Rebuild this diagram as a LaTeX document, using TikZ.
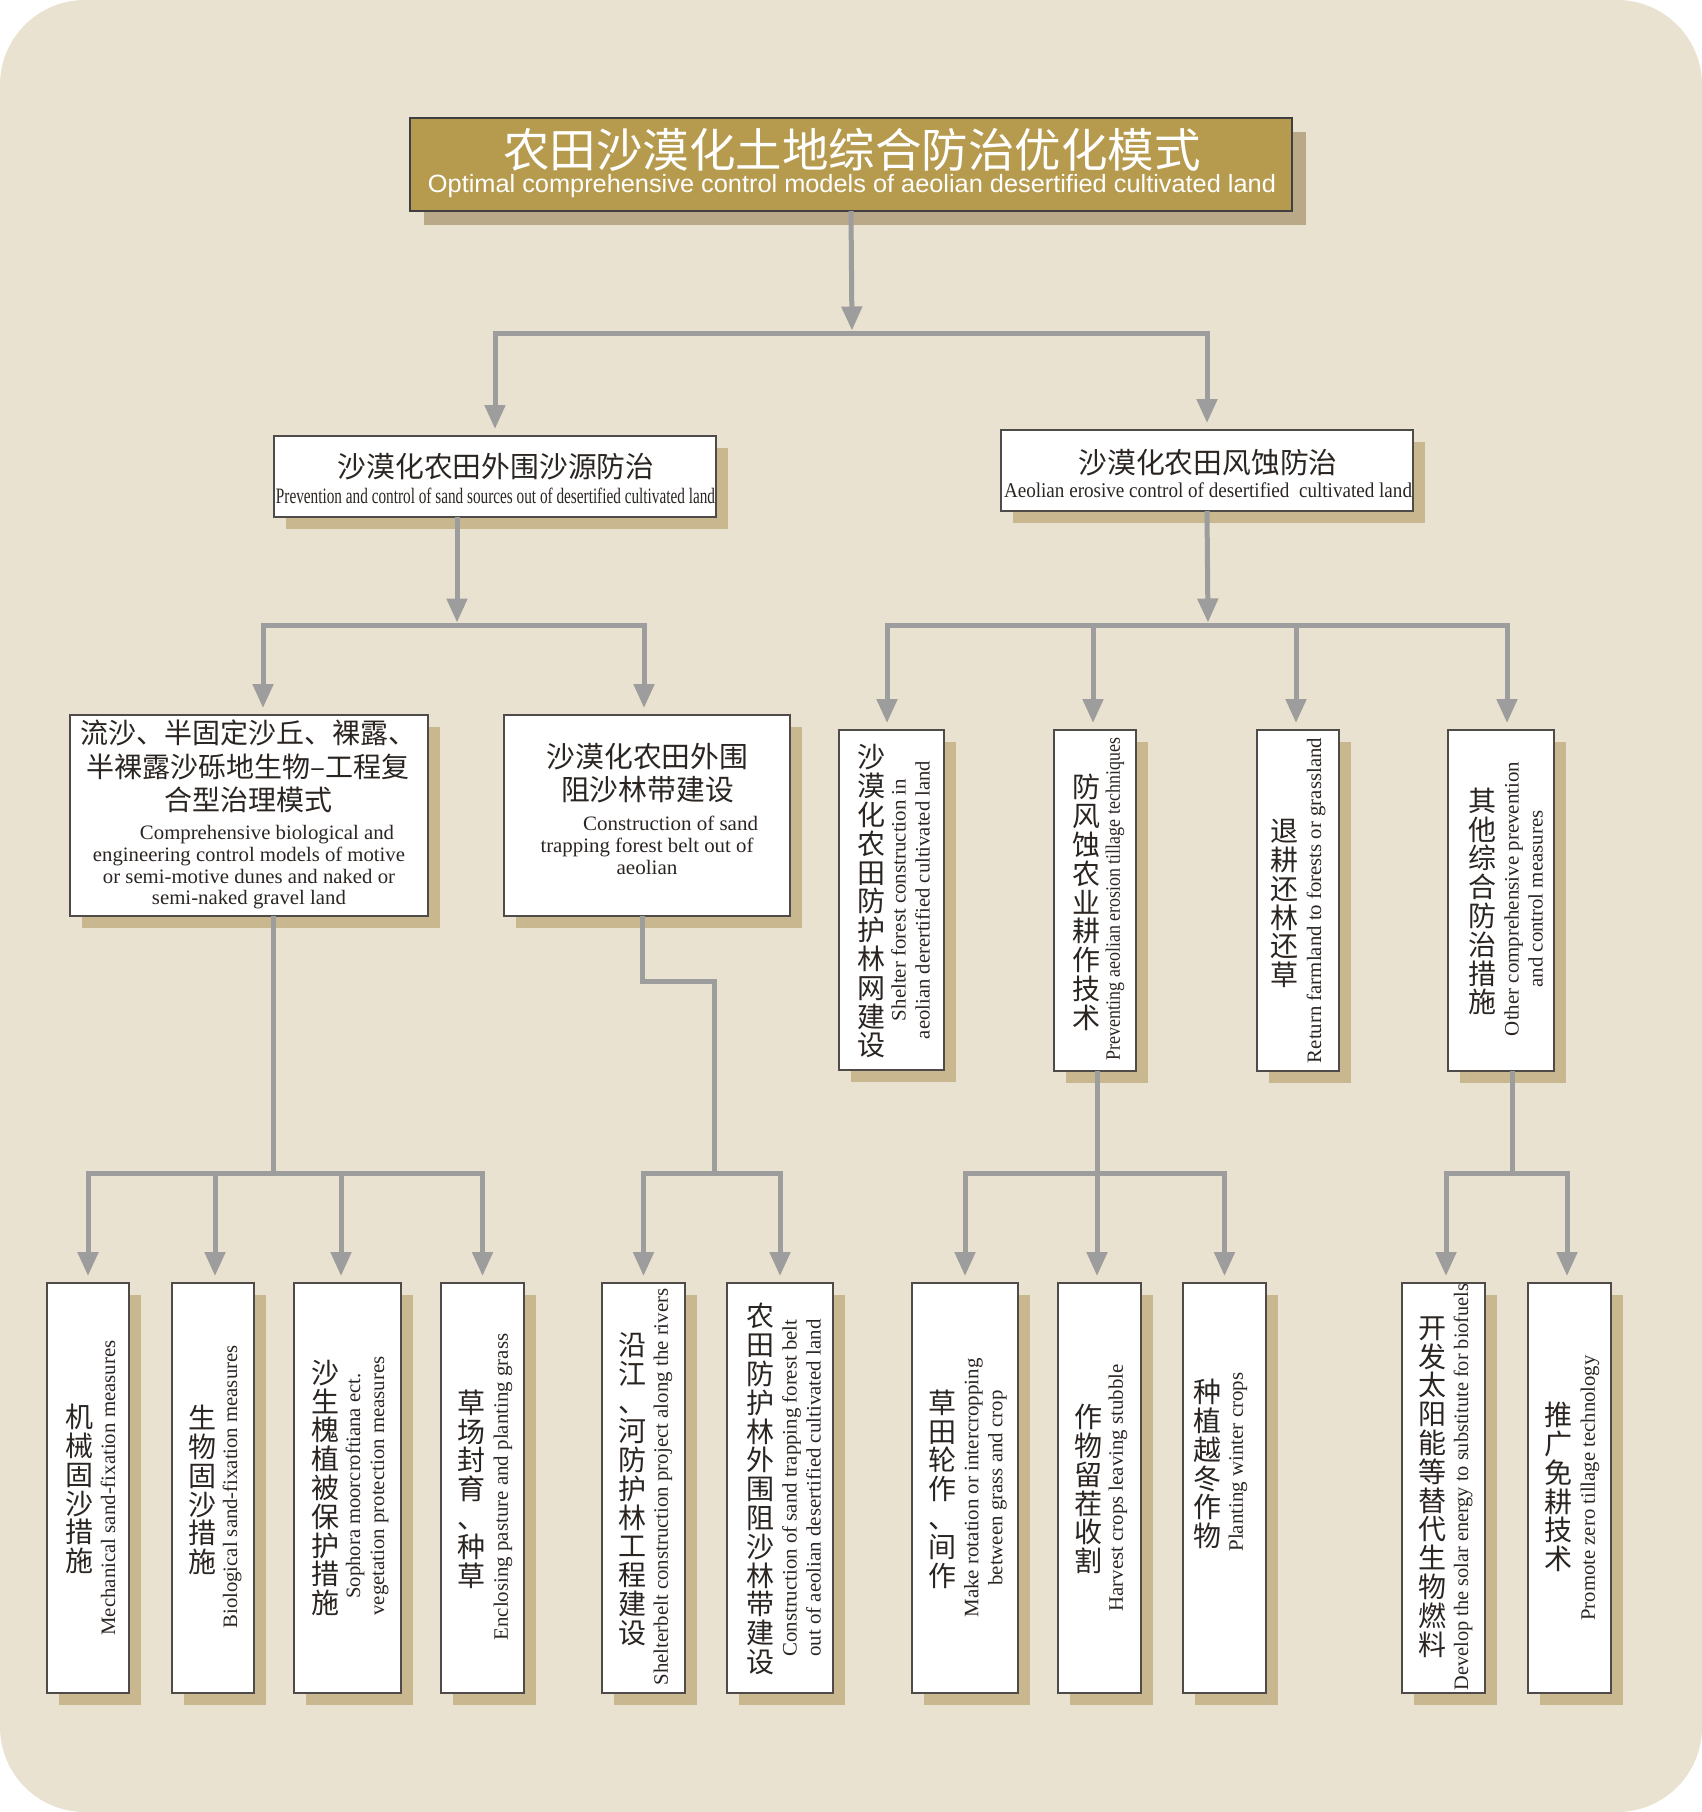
\documentclass[tikz,border=0pt]{standalone}
\usepackage{fontspec}
\usepackage{graphicx}
\setmainfont{Liberation Serif}
\newfontfamily\cjk{Noto Sans CJK SC}
\newfontfamily\ssf{Liberation Sans}
\usetikzlibrary{arrows.meta,shadows,calc}
\definecolor{bgc}{HTML}{EAE2D0}
\definecolor{gold}{HTML}{B69B4F}
\definecolor{tshd}{HTML}{BAA989}
\definecolor{shd}{HTML}{C8B78F}
\definecolor{lineg}{HTML}{9D9D9D}
\definecolor{bord}{HTML}{4F4B48}
\definecolor{txt}{HTML}{2B2522}
\newcommand\fw[2]{\resizebox{#1pt}{\height}{#2}}
\makeatletter
\newcommand\vcjk[1]{\vbox{\baselineskip=28.8pt\lineskiplimit=-100pt\lineskip=0pt\@tfor\vc@c:=#1\do{\hbox to 1em{\hss\vc@c\hss}}}}
\makeatother
\tikzset{
  box/.style={draw=bord, line width=1.6pt, fill=white, inner sep=0pt, outer sep=0pt,
    drop shadow={shadow xshift=12pt, shadow yshift=-12pt, fill=shd, opacity=1}},
  tbox/.style={draw=black!75, line width=1.6pt, fill=gold, inner sep=0pt, outer sep=0pt,
    drop shadow={shadow xshift=14pt, shadow yshift=-14pt, fill=tshd, opacity=1}},
  cn/.style={font=\cjk\fontsize{28.8}{33.5}\selectfont, text=txt, inner sep=0pt, align=center},
  en/.style={font=\fontsize{20.5}{21.7}\selectfont, text=txt, inner sep=0pt, align=center},
  ven/.style={font=\fontsize{20.5}{24}\selectfont, text=txt, inner sep=0pt, align=center, rotate=90},
  vcn/.style={font=\cjk\fontsize{28}{28.8}\selectfont, text=txt, inner sep=0pt},
  conn/.style={draw=lineg, line width=5pt, line join=miter},
  arr/.style={conn, -{Triangle[length=24pt,width=20pt]}},
  gap/.style={shorten >=7pt}
}
\begin{document}
\begin{tikzpicture}[x=1pt,y=-1pt]
\useasboundingbox (0,0) rectangle (1702,1812);
\fill[white] (0,0) rectangle (1702,1812);
\fill[bgc, rounded corners=85pt] (0,0) rectangle (1702,1812);

% title
\node[tbox, minimum width=882pt, minimum height=93pt] (title) at (851,164.5) {};
\node[font=\cjk\fontsize{46.5}{50}\selectfont, text=white, inner sep=0pt] (tcn) at (852,150) {农田沙漠化土地综合防治优化模式};
\node[font=\ssf\fontsize{25}{28}\selectfont, text=white, inner sep=0pt] (ten) at (852,186) {\fw{848}{Optimal comprehensive control models of aeolian desertified cultivated land}};

% level 2
\node[box, minimum width=442pt, minimum height=81pt] (l2a) at (495,476.5) {};
\node[cn] (l2acn) at (496,467) {沙漠化农田外围沙源防治};
\node[en, font=\fontsize{22}{24}\selectfont] (l2aen) at (495.5,496) {\fw{439}{Prevention and control of sand sources out of desertified cultivated land}};

\node[box, minimum width=412pt, minimum height=81pt] (l2b) at (1207,470.5) {};
\node[cn] (l2bcn) at (1208,463) {沙漠化农田风蚀防治};
\node[en, font=\fontsize{21}{24}\selectfont] (l2ben) at (1208,490) {\fw{408}{Aeolian erosive control of desertified\ \ cultivated land}};

% level 3
\node[box, minimum width=358pt, minimum height=201pt] (na) at (249,815.5) {};
\node[cn, font=\cjk\fontsize{28}{33.5}\selectfont] (nacn) at (248,766.5) {流沙、半固定沙丘、裸露、\\半裸露沙砾地生物–工程复\\合型治理模式};
\node[en] (naen) at (249,867.5) {\hspace*{36pt}\fw{254}{Comprehensive biological and}\\\fw{312}{engineering control models of motive}\\\fw{292}{or semi-motive dunes and naked or}\\\fw{194}{semi-naked gravel land}};

\node[box, minimum width=286pt, minimum height=201pt] (nb) at (647,815.5) {};
\node[cn, font=\cjk\fontsize{28.8}{33}\selectfont] (nbcn) at (647.5,773.5) {沙漠化农田外围\\阻沙林带建设};
\node[en] (nben) at (647,845.5) {\hspace*{47pt}\fw{175}{Construction of sand}\\\fw{213}{trapping forest belt out of}\\\fw{61}{aeolian}};

\node[box, minimum width=105pt, minimum height=340pt] (nc) at (891.5,900) {};
\node[vcn] (nccn) at (871,901.5) {\vcjk{沙漠化农田防护林网建设}};
\node[ven] (ncen) at (910.5,900) {\fw{242}{Shelter forest construction in}\\\fw{278}{aeolian derertified cultivated land}};

\node[box, minimum width=82pt, minimum height=341pt] (nd) at (1095,900.5) {};
\node[vcn] (ndcn) at (1086,902.5) {\vcjk{防风蚀农业耕作技术}};
\node[ven] (nden) at (1115,899) {\fw{322}{Preventing aeolian erosion tillage techniques}};

\node[box, minimum width=82pt, minimum height=341pt] (ne) at (1298,900.5) {};
\node[vcn] (necn) at (1284,903.5) {\vcjk{退耕还林还草}};
\node[ven] (neen) at (1316,900.5) {\fw{325}{Return farmland to forests or grassland}};

\node[box, minimum width=106pt, minimum height=341pt] (nf) at (1501,900.5) {};
\node[vcn] (nfcn) at (1482,901.5) {\vcjk{其他综合防治措施}};
\node[ven] (nfen) at (1523.5,899) {\fw{274}{Other comprehensive prevention}\\\fw{177}{and control measures}};

% level 4
\node[box, minimum width=82pt, minimum height=410pt] (g1) at (88,1488) {};
\node[vcn] (g1cn) at (79.5,1489) {\vcjk{机械固沙措施}};
\node[ven] (g1en) at (108,1488) {\fw{295}{Mechanical sand-fixation measures}};

\node[box, minimum width=82pt, minimum height=410pt] (g2) at (213,1488) {};
\node[vcn] (g2cn) at (202,1490) {\vcjk{生物固沙措施}};
\node[ven] (g2en) at (232,1487) {\fw{283}{Biological sand-fixation measures}};

\node[box, minimum width=107pt, minimum height=410pt] (g3) at (347.5,1488) {};
\node[vcn] (g3cn) at (325,1488) {\vcjk{沙生槐植被保护措施}};
\node[ven] (g3en) at (367,1486) {\fw{225}{Sophora moorcroftiana ect.}\\\fw{259}{vegetation protection measures}};

\node[box, minimum width=83pt, minimum height=410pt] (g4) at (482.5,1488) {};
\node[vcn] (g4cn) at (471,1489) {\vcjk{草场封育、种草}};
\node[ven] (g4en) at (503,1487) {\fw{307}{Enclosing pasture and planting grass}};

\node[box, minimum width=83pt, minimum height=410pt] (h1) at (643.5,1488) {};
\node[vcn] (h1cn) at (632,1489) {\vcjk{沿江、河防护林工程建设}};
\node[ven] (h1en) at (663,1487) {\fw{397}{Shelterbelt construction project along the rivers}};

\node[box, minimum width=106pt, minimum height=410pt] (h2) at (780,1488) {};
\node[vcn] (h2cn) at (760,1489) {\vcjk{农田防护林外围阻沙林带建设}};
\node[ven] (h2en) at (801.5,1488) {\fw{337}{Construction of sand trapping forest belt}\\\fw{337}{out of aeolian desertified cultivated land}};

\node[box, minimum width=106pt, minimum height=410pt] (i1) at (965,1488) {};
\node[vcn] (i1cn) at (942,1489) {\vcjk{草田轮作、间作}};
\node[ven] (i1en) at (985.5,1488) {\fw{259}{Make rotation or intercropping}\\\fw{195}{between grass and crop}};

\node[box, minimum width=83pt, minimum height=410pt] (i2) at (1099.5,1488) {};
\node[vcn] (i2cn) at (1088,1489) {\vcjk{作物留茬收割}};
\node[ven] (i2en) at (1118,1488) {\fw{247}{Harvest crops leaving stubble}};

\node[box, minimum width=83pt, minimum height=410pt] (i3) at (1224.5,1488) {};
\node[vcn] (i3cn) at (1207,1464) {\vcjk{种植越冬作物}};
\node[ven] (i3en) at (1238,1462) {\fw{179}{Planting winter crops}};

\node[box, minimum width=83pt, minimum height=410pt] (j1) at (1443.5,1488) {};
\node[vcn] (j1cn) at (1432,1487) {\vcjk{开发太阳能等替代生物燃料}};
\node[ven] (j1en) at (1463,1487) {\fw{407}{Develop the solar energy to substitute for biofuels}};

\node[box, minimum width=83pt, minimum height=410pt] (j2) at (1569.5,1488) {};
\node[vcn] (j2cn) at (1558,1487) {\vcjk{推广免耕技术}};
\node[ven] (j2en) at (1590,1488) {\fw{265}{Promote zero tillage technology}};

% connectors
\coordinate (b0) at (852,333);
\coordinate (b1) at (457,625);
\coordinate (b2) at (1208,625);
\coordinate (b3) at (273,1173);
\coordinate (k4) at (714,981);
\coordinate (b4) at (714,1173);
\coordinate (b5) at (1097,1173);
\coordinate (b6) at (1512,1173);

\draw[arr, shorten >=2.5pt] (title.south) -- (b0);
\draw[arr, gap] (b0) -| (l2a.north);
\draw[arr, gap] (b0) -| (l2b.north);

\draw[arr, shorten >=2.5pt] ($(l2a.south)+(-38,0)$) -- (b1);
\draw[arr, gap] (b1) -| ($(na.north)+(14,0)$);
\draw[arr, gap] (b1) -| ($(nb.north)+(-3,0)$);

\draw[arr, shorten >=2.5pt] (l2b.south) -- (b2);
\draw[arr, gap] (b2) -| ($(nc.north)+(-4.5,0)$);
\draw[arr, gap] (b2) -| ($(nd.north)+(-2,0)$);
\draw[arr, gap] (b2) -| ($(ne.north)+(-2,0)$);
\draw[arr, gap] (b2) -| ($(nf.north)+(6,0)$);

\draw[conn] ($(na.south)+(24,0)$) -- (b3);
\draw[arr, gap] (b3) -| (g1.north);
\draw[arr, gap] (b3) -| ($(g2.north)+(2,0)$);
\draw[arr, gap] (b3) -| ($(g3.north)+(-6.5,0)$);
\draw[arr, gap] (b3) -| (g4.north);

\draw[conn] ($(nb.south)+(-5,0)$) |- (k4) -- (b4);
\draw[arr, gap] (b4) -| (h1.north);
\draw[arr, gap] (b4) -| (h2.north);

\draw[conn] ($(nd.south)+(2,0)$) -- (b5);
\draw[arr, gap] (b5) -| (i1.north);
\draw[arr, gap] (b5) -- ($(i2.north)+(-2.5,0)$);
\draw[arr, gap] (b5) -| (i3.north);

\draw[conn] ($(nf.south)+(11,0)$) -- (b6);
\draw[arr, gap] (b6) -| ($(j1.north)+(2.5,0)$);
\draw[arr, gap] (b6) -| ($(j2.north)+(-2.5,0)$);
\end{tikzpicture}
\end{document}
